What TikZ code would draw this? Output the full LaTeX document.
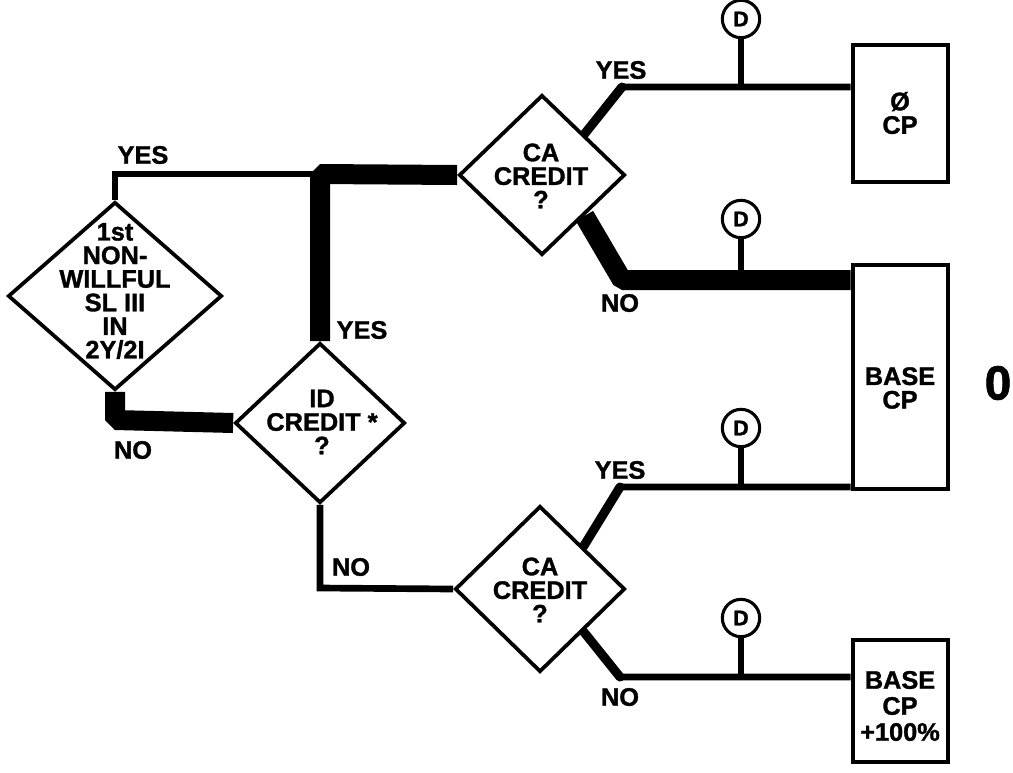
\documentclass[tikz,border=0pt]{standalone}
\usepackage{fontspec}
\setmainfont{Liberation Sans}[BoldFeatures={FakeBold=1.3}]
\usetikzlibrary{shapes.geometric,backgrounds}
\begin{document}
\begin{tikzpicture}[x=0.75pt,y=-0.75pt,
  dia/.style={draw, diamond, line width=2.8pt, inner sep=0pt, fill=white},
  box/.style={draw, rectangle, line width=3.4pt, inner sep=0pt, fill=white},
  txt/.style={font=\bfseries\fontsize{19}{17.7}\selectfont, align=center, inner sep=0pt},
  lbl/.style={font=\bfseries\fontsize{19}{19}\selectfont, inner sep=0pt},
  wire/.style={line width=5pt, line join=miter},
  diagw/.style={line width=6.8pt, line cap=round},
  heavy/.style={line width=15pt, line join=bevel},
  dnode/.style={draw, circle, line width=2.3pt, minimum size=28pt, inner sep=0pt, fill=white, font=\bfseries\fontsize{16}{16}\selectfont},
  stem/.style={line width=4.6pt},
]
\useasboundingbox (0,0) rectangle (1013,772);

% decision nodes
\node[dia, minimum width=160.5pt, minimum height=141pt] (d1) at (115,296) {};
\node[dia, minimum width=127.5pt, minimum height=120pt] (id) at (320,423) {};
\node[dia, minimum width=124.5pt, minimum height=120pt] (ca1) at (542,175) {};
\node[dia, minimum width=127.5pt, minimum height=124.5pt] (ca2) at (540,589) {};

% decision texts
\node[txt] (t1) at (115,291) {1st\\NON-\\WILLFUL\\SL III\\IN\\2Y/2I};
\node[txt] (tid) at (322,422) {ID\\CREDIT *\\?};
\node[txt] (tca1) at (541,176) {CA\\CREDIT\\?};
\node[txt] (tca2) at (540,590) {CA\\CREDIT\\?};

% outcome boxes
\node[box, minimum width=71.25pt, minimum height=102.75pt] (b1) at (900.5,113.5) {};
\node[box, minimum width=71.25pt, minimum height=168pt] (b2) at (900.5,377) {};
\node[box, minimum width=71.25pt, minimum height=91.5pt] (b3) at (900.5,701) {};
\node[txt] (tb1) at (900,113) {Ø\\CP};
\node[txt] (tb2) at (900,388) {BASE\\CP};
\node[txt, font=\bfseries\fontsize{19}{19.5}\selectfont] (tb3) at (900,706) {BASE\\CP\\+100\%};
\node[font=\bfseries\fontsize{36}{36}\selectfont, inner sep=0pt] (zero) at (998,383) {0};

% corner coordinates
\coordinate (c1) at (115,174);
\coordinate (c2) at (320,174);
\coordinate (c3) at (115,420);
\coordinate (c4) at (320,588);
\coordinate (ya) at (622,87);
\coordinate (na) at (622,280);
\coordinate (yb) at (620,487);
\coordinate (nb) at (620,677);

% D markers
\node[dnode] (D1) at (741,19) {D};
\node[dnode] (D2) at (741,219) {D};
\node[dnode] (D3) at (741,428) {D};
\node[dnode] (D4) at (741,618) {D};

% connectors
\begin{scope}[on background layer]
  \draw[wire] (d1.north) -- (c1) -- (c2);
  \draw[heavy] (id.north) -- (c2) -- (ca1.west);
  \draw[heavy] (d1.south) -- (c3) -- (id.west);
  \draw[wire] (id.south) -- (c4) -- (ca2.west);
  \draw[wire] (ca1.north east) -- (ya) -- (ya -| b1.west);
  \draw[diagw] (ca1.north east) -- (ya);
  \draw[heavy] (ca1.south east) -- (na) -- (na -| b2.west);
  \draw[wire] (ca2.north east) -- (yb) -- (yb -| b2.west);
  \draw[diagw] (ca2.north east) -- (yb);
  \draw[wire] (ca2.south east) -- (nb) -- (nb -| b3.west);
  \draw[diagw] (ca2.south east) -- (nb);
  \draw[stem] (D1.south) -- (D1.south |- ya);
  \draw[stem] (D2.south) -- (D2.south |- na);
  \draw[stem] (D3.south) -- (D3.south |- yb);
  \draw[stem] (D4.south) -- (D4.south |- nb);
\end{scope}

% branch labels
\node[lbl] (l1) at (143,155) {YES};
\node[lbl] (l2) at (362,330) {YES};
\node[lbl] (l3) at (133,450) {NO};
\node[lbl] (l4) at (621,70) {YES};
\node[lbl] (l5) at (620,303) {NO};
\node[lbl] (l6) at (620,470) {YES};
\node[lbl] (l7) at (351,567) {NO};
\node[lbl] (l8) at (620,697) {NO};
\end{tikzpicture}
\end{document}
